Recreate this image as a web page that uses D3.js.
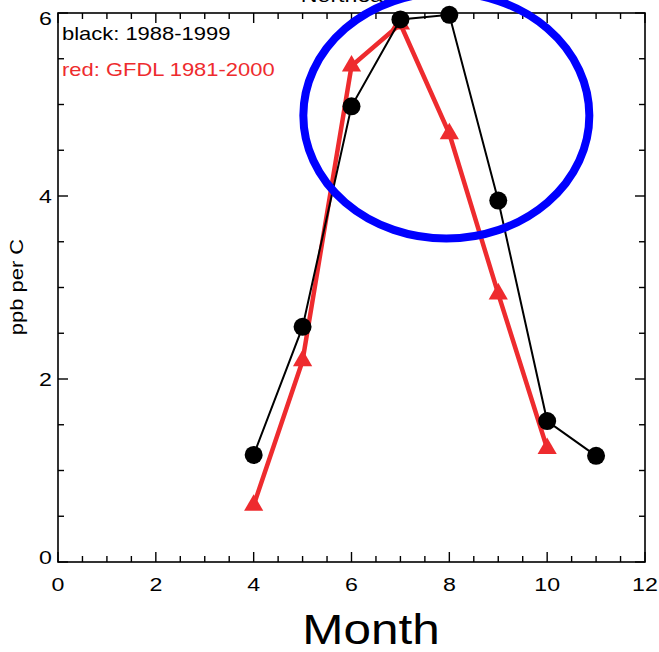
<!DOCTYPE html>
<html>
<head>
<meta charset="utf-8">
<script src="https://cdn.jsdelivr.net/npm/d3@7"></script>
<style>
  html, body { margin: 0; padding: 0; background: #fff; }
  svg { display: block; }
  text { font-family: "Liberation Sans", Arial, Helvetica, sans-serif; }
</style>
</head>
<body>
<script>
// Monthly ozone-temperature sensitivity (ppb per C)
const title = "Northeast";
const obsMonths = [4, 5, 6, 7, 8, 9, 10, 11];
const obsValues = [1.17, 2.57, 4.98, 5.93, 5.98, 3.95, 1.54, 1.16];
const modelMonths = [4, 5, 6, 7, 8, 9, 10];
const modelValues = [0.62, 2.20, 5.42, 5.88, 4.68, 2.93, 1.24];
const xTicks = [0, 2, 4, 6, 8, 10, 12];
const yTicks = [0, 2, 4, 6];
const legendLines = ["black: 1988-1999", "red: GFDL 1981-2000"];

const W = 659, H = 652;
const plotLeft = 58, plotRight = 645, plotTop = 13, plotBottom = 562;
const stretch = 1.22;

const svg = d3.select("body").append("svg").attr("width", W).attr("height", H);

const x = d3.scaleLinear().domain([0, 12]).range([plotLeft, plotRight]);
const y = d3.scaleLinear().domain([0, 6]).range([plotBottom, plotTop]);

const RED = "#ee2b2e";

// frame
svg.append("rect")
  .attr("x", plotLeft).attr("y", plotTop)
  .attr("width", plotRight - plotLeft).attr("height", plotBottom - plotTop)
  .attr("fill", "none").attr("stroke", "#000").attr("stroke-width", 1.6);

// inward ticks on all four sides
const minorX = d3.range(0, 12.01, 0.5);
const minorY = d3.range(0, 6.01, 0.5);
const isMajor = v => Math.abs(v - Math.round(v / 2) * 2) < 1e-6;
const tickG = svg.append("g").attr("stroke", "#000").attr("stroke-width", 1.4);
minorX.forEach(v => {
  const len = isMajor(v) ? 10 : 6;
  tickG.append("line").attr("x1", x(v)).attr("x2", x(v)).attr("y1", plotBottom).attr("y2", plotBottom - len);
  tickG.append("line").attr("x1", x(v)).attr("x2", x(v)).attr("y1", plotTop).attr("y2", plotTop + len);
});
minorY.forEach(v => {
  const len = isMajor(v) ? 10 : 6;
  tickG.append("line").attr("y1", y(v)).attr("y2", y(v)).attr("x1", plotLeft).attr("x2", plotLeft + len);
  tickG.append("line").attr("y1", y(v)).attr("y2", y(v)).attr("x1", plotRight).attr("x2", plotRight - len);
});

function stretchedText(g, tx, ty, str, size, anchor, sx, rot) {
  return g.append("text")
    .attr("transform", `translate(${tx},${ty})${rot ? ` rotate(${rot})` : ""} scale(${sx},1)`)
    .attr("text-anchor", anchor)
    .attr("font-size", size)
    .text(str);
}

// tick labels
const labG = svg.append("g").attr("fill", "#000");
xTicks.forEach(v => stretchedText(labG, x(v), 591, String(v), 19, "middle", stretch));
yTicks.forEach(v => {
  let yy = y(v) + 7;
  if (v === 0) yy = y(v) + 2;
  if (v === 6) yy = y(v) + 12;
  stretchedText(labG, 52, yy, String(v), 19, "end", stretch);
});

// axis titles
stretchedText(svg, 371, 644, "Month", 43, "middle", 1.15);
stretchedText(svg, 23, 287, "ppb per C", 18, "middle", 1.22, -90);
stretchedText(svg, 351, 2, title, 19, "middle", stretch);

// legend text
stretchedText(svg, 62, 40, legendLines[0], 18, "start", stretch).attr("fill", "#000");
stretchedText(svg, 62, 76, legendLines[1], 18, "start", stretch).attr("fill", RED);

// model series (red, triangles)
const modelData = modelMonths.map((m, i) => ({ m, v: modelValues[i] }));
const obsData = obsMonths.map((m, i) => ({ m, v: obsValues[i] }));
const line = d3.line().x(d => x(d.m)).y(d => y(d.v));

svg.append("path").datum(modelData)
  .attr("d", line).attr("fill", "none")
  .attr("stroke", RED).attr("stroke-width", 4.5).attr("stroke-linejoin", "round");
const tri = d3.symbol().type(d3.symbolTriangle).size(160);
svg.append("g").selectAll("path").data(modelData).join("path")
  .attr("d", tri)
  .attr("transform", d => `translate(${x(d.m)},${y(d.v)})`)
  .attr("fill", RED);

// observed series (black, circles)
svg.append("path").datum(obsData)
  .attr("d", line).attr("fill", "none")
  .attr("stroke", "#000").attr("stroke-width", 2);
svg.append("g").selectAll("circle").data(obsData).join("circle")
  .attr("cx", d => x(d.m)).attr("cy", d => y(d.v)).attr("r", 9)
  .attr("fill", "#000");

// highlight ellipse around the summer peak
svg.append("ellipse")
  .attr("cx", x(8) - 3).attr("cy", y(4.88))
  .attr("rx", 143).attr("ry", 123)
  .attr("fill", "none").attr("stroke", "#0000ff").attr("stroke-width", 8);
</script>
</body>
</html>
